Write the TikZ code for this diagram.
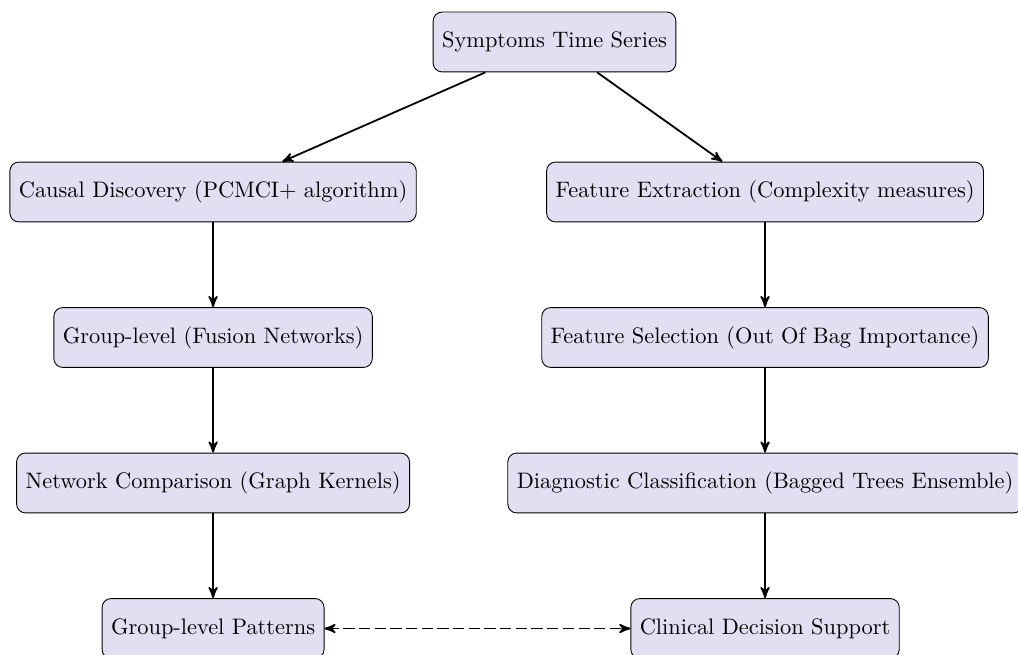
\documentclass[tikz,border=0pt]{standalone}
\usetikzlibrary{arrows,positioning}
\definecolor{boxfill}{RGB}{226,223,242}

\begin{document}
\begin{tikzpicture}[->,>=stealth',thick,node distance=1.33cm]
  \tikzstyle{stage}=[draw,thin,rounded corners=4pt,fill=boxfill,minimum height=0.94cm,inner xsep=4pt]
  \useasboundingbox (-8.705,-9.623) rectangle (7.276,0.659);

  \node[stage] (series) at (0,0) {Symptoms Time Series};
  \node[stage] (causal) at (-5.36,-2.355) {Causal Discovery (PCMCI+ algorithm)};
  \node[stage] (extract) at (3.305,-2.355) {Feature Extraction (Complexity measures)};
  \node[stage] (fusion) [below=of causal] {Group-level (Fusion Networks)};
  \node[stage] (select) [below=of extract] {Feature Selection (Out Of Bag Importance)};
  \node[stage] (compare) [below=of fusion] {Network Comparison (Graph Kernels)};
  \node[stage] (classify) [below=of select] {Diagnostic Classification (Bagged Trees Ensemble)};
  \node[stage] (patterns) [below=of compare] {Group-level Patterns};
  \node[stage] (support) [below=of classify] {Clinical Decision Support};

  \draw (series) -- (causal);
  \draw (series) -- (extract);
  \draw (causal) -- (fusion);
  \draw (fusion) -- (compare);
  \draw (compare) -- (patterns);
  \draw (extract) -- (select);
  \draw (select) -- (classify);
  \draw (classify) -- (support);
  \draw[<->,dash pattern=on 5pt off 2pt] (patterns) -- (support);
\end{tikzpicture}
\end{document}
